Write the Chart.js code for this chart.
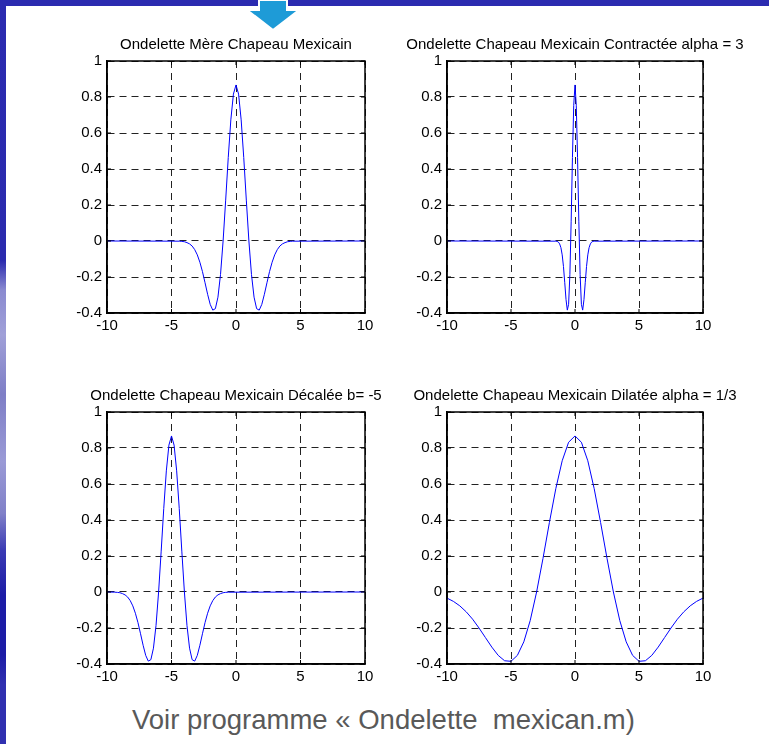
<!DOCTYPE html>
<html>
<head>
<meta charset="utf-8">
<script src="https://cdn.jsdelivr.net/npm/chart.js@4.4.1/dist/chart.umd.min.js"></script>
<style>
  body { margin: 0; background: #fff; width: 769px; height: 744px; overflow: hidden; position: relative; font-family: "Liberation Sans", Arial, sans-serif; }
  .bar-top { position: absolute; left: 0; top: 0; width: 769px; height: 6px; background: #2b2bb0; }
  .bar-left { position: absolute; left: 0; top: 0; width: 6px; height: 744px;
    background: linear-gradient(to bottom, #2b2bb0 0%, #2a2aae 35%, #8a8ad0 39%, #a0a0d8 45%, #7e7ec6 53%, #9a9ad6 62%, #8080c8 69%, #3a3ab4 74%, #1c1ca6 80%, #1c1ca6 88%, #3030b0 92%, #3030b0 100%); }
  .arrow { position: absolute; left: 244px; top: 0; }
  canvas { position: absolute; }
  #caption { position: absolute; left: 132px; top: 705px; font-size: 27.5px; line-height: 30px; color: #595959; white-space: pre; }
</style>
</head>
<body>
<div class="bar-top"></div>
<div class="bar-left"></div>
<svg class="arrow" width="58" height="32">
  <polygon points="15,0 43,0 43,10 55,10 29,30 3,10 15,10" fill="#1e9bd7" stroke="#ffffff" stroke-width="2"/>
</svg>
<canvas id="c1" width="358" height="322" style="left:57px;top:21px"></canvas>
<canvas id="c2" width="356" height="322" style="left:397px;top:21px"></canvas>
<canvas id="c3" width="358" height="322" style="left:57px;top:372px"></canvas>
<canvas id="c4" width="356" height="322" style="left:397px;top:372px"></canvas>
<div id="caption">Voir programme « Ondelette  mexican.m)</div>
<script>
// ondelette mère, chapeau mexicain
const x1 = [-10, -4.4, -4.2, -4.0, -3.8, -3.6, -3.4, -3.2, -3.0, -2.8, -2.6, -2.4, -2.2, -2.0, -1.8, -1.6, -1.4, -1.2, -1.0, -0.8, -0.6, -0.4, -0.2,
  0, 0.2, 0.4, 0.6, 0.8, 1.0, 1.2, 1.4, 1.6, 1.8, 2.0, 2.2, 2.4, 2.6, 2.8, 3.0, 3.2, 3.4, 3.6, 3.8, 4.0, 4.2, 4.4, 10];
const y1 = [0, -0.001, -0.002, -0.004, -0.009, -0.016, -0.028, -0.048, -0.077, -0.118, -0.170, -0.232, -0.296, -0.352, -0.384, -0.376, -0.312, -0.186, 0, 0.227, 0.464, 0.673, 0.816,
  0.867, 0.816, 0.673, 0.464, 0.227, 0, -0.186, -0.312, -0.376, -0.384, -0.352, -0.296, -0.232, -0.170, -0.118, -0.077, -0.048, -0.028, -0.016, -0.009, -0.004, -0.002, -0.001, 0];

// contractée alpha = 3
const x2 = [-10, -1.5, -1.4, -1.3, -1.2, -1.1, -1.0, -0.9, -0.8, -0.7, -0.6, -0.5, -0.4, -0.3, -0.2, -0.1,
  0, 0.1, 0.2, 0.3, 0.4, 0.5, 0.6, 0.7, 0.8, 0.9, 1.0, 1.1, 1.2, 1.3, 1.4, 1.5, 10];
const y2 = [0, -0.001, -0.002, -0.006, -0.016, -0.037, -0.077, -0.142, -0.232, -0.326, -0.384, -0.352, -0.186, 0.110, 0.464, 0.754,
  0.867, 0.754, 0.464, 0.110, -0.186, -0.352, -0.384, -0.326, -0.232, -0.142, -0.077, -0.037, -0.016, -0.006, -0.002, -0.001, 0];

// décalée b = -5
const x3 = [-10, -9.4, -9.2, -9.0, -8.8, -8.6, -8.4, -8.2, -8.0, -7.8, -7.6, -7.4, -7.2, -7.0, -6.8, -6.6, -6.4, -6.2, -6.0, -5.8, -5.6, -5.4, -5.2,
  -5.0, -4.8, -4.6, -4.4, -4.2, -4.0, -3.8, -3.6, -3.4, -3.2, -3.0, -2.8, -2.6, -2.4, -2.2, -2.0, -1.8, -1.6, -1.4, -1.2, -1.0, -0.8, -0.6, 10];
const y3 = [0, -0.001, -0.002, -0.004, -0.009, -0.016, -0.028, -0.048, -0.077, -0.118, -0.170, -0.232, -0.296, -0.352, -0.384, -0.376, -0.312, -0.186, 0, 0.227, 0.464, 0.673, 0.816,
  0.867, 0.816, 0.673, 0.464, 0.227, 0, -0.186, -0.312, -0.376, -0.384, -0.352, -0.296, -0.232, -0.170, -0.118, -0.077, -0.048, -0.028, -0.016, -0.009, -0.004, -0.002, -0.001, 0];

// dilatée alpha = 1/3
const x4 = [-10, -9.5, -9, -8.5, -8, -7.5, -7, -6.5, -6, -5.5, -5, -4.5, -4, -3.5, -3, -2.5, -2, -1.5, -1, -0.5,
  0, 0.5, 1, 1.5, 2, 2.5, 3, 3.5, 4, 4.5, 5, 5.5, 6, 6.5, 7, 7.5, 8, 8.5, 9, 9.5, 10];
const y4 = [-0.034, -0.052, -0.077, -0.110, -0.151, -0.200, -0.253, -0.306, -0.352, -0.382, -0.385, -0.352, -0.277, -0.159, 0, 0.187, 0.386, 0.574, 0.729, 0.832,
  0.867, 0.832, 0.729, 0.574, 0.386, 0.187, 0, -0.159, -0.277, -0.352, -0.385, -0.382, -0.352, -0.306, -0.253, -0.200, -0.151, -0.110, -0.077, -0.052, -0.034];

const titles = [
  'Ondelette Mère Chapeau Mexicain',
  'Ondelette Chapeau Mexicain Contractée alpha = 3',
  'Ondelette Chapeau Mexicain Décalée b= -5',
  'Ondelette Chapeau Mexicain Dilatée alpha = 1/3',
];

const xTicks = [-10, -5, 0, 5, 10];
const xTickLabels = ['-10', '-5', '0', '5', '10'];
const yTicks = [-0.4, -0.2, 0, 0.2, 0.4, 0.6, 0.8, 1];
const yTickLabels = ['-0.4', '-0.2', '0', '0.2', '0.4', '0.6', '0.8', '1'];

const FONT = '"Liberation Sans", Arial, sans-serif';

// matlab style box with little inner ticks
const boxPlugin = {
  id: 'box',
  afterDatasetsDraw(chart) {
    const { ctx, chartArea: a, scales } = chart;
    ctx.save();
    ctx.strokeStyle = '#000';
    ctx.lineWidth = 1;
    ctx.beginPath();
    scales.x.ticks.forEach((t) => {
      const px = scales.x.getPixelForValue(t.value);
      ctx.moveTo(px, a.bottom); ctx.lineTo(px, a.bottom - 4);
      ctx.moveTo(px, a.top); ctx.lineTo(px, a.top + 4);
    });
    scales.y.ticks.forEach((t) => {
      const py = scales.y.getPixelForValue(t.value);
      ctx.moveTo(a.left, py); ctx.lineTo(a.left + 4, py);
      ctx.moveTo(a.right, py); ctx.lineTo(a.right - 4, py);
    });
    ctx.stroke();
    ctx.lineWidth = 1.5;
    ctx.strokeRect(a.left, a.top, a.width, a.height);
    ctx.restore();
  },
};

const makePlot = (id, title, xs, ys) => {
  const ctx = document.getElementById(id).getContext('2d');
  return new Chart(ctx, {
    type: 'line',
    data: {
      datasets: [{
        data: xs.map((x, i) => ({ x, y: ys[i] })),
        borderColor: '#0000ff',
        borderWidth: 1,
        pointRadius: 0,
        tension: 0,
        fill: false,
      }],
    },
    options: {
      responsive: false,
      animation: false,
      devicePixelRatio: 1,
      layout: { padding: { top: 15, right: 0, bottom: 0, left: 0 } },
      plugins: {
        legend: { display: false },
        tooltip: { enabled: false },
        title: {
          display: true,
          text: title,
          color: '#000',
          font: { family: FONT, size: 15, weight: 'normal', lineHeight: 1.2 },
          padding: { top: 0, bottom: 7 },
        },
      },
      scales: {
        x: {
          type: 'linear',
          min: -10,
          max: 10,
          afterBuildTicks: (scale) => { scale.ticks = xTicks.map((v) => ({ value: v })); },
          afterFit: (scale) => { scale.height = 30; },
          ticks: {
            color: '#000',
            padding: 4,
            maxRotation: 0,
            font: { family: FONT, size: 15 },
            callback: (v, i) => xTickLabels[i],
          },
          grid: { color: '#222', lineWidth: 1, drawTicks: false },
          border: { display: true, color: '#000', width: 1.5, dash: [7, 5] },
        },
        y: {
          type: 'linear',
          min: -0.4,
          max: 1,
          afterBuildTicks: (scale) => { scale.ticks = yTicks.map((v) => ({ value: v })); },
          afterFit: (scale) => { scale.width = 50; },
          ticks: {
            color: '#000',
            padding: 5,
            font: { family: FONT, size: 15 },
            callback: (v, i) => yTickLabels[i],
          },
          grid: { color: '#222', lineWidth: 1, drawTicks: false },
          border: { display: true, color: '#000', width: 1.5, dash: [7, 5] },
        },
        // empty right axis, keeps the plot centred under its title
        yRight: {
          type: 'linear',
          position: 'right',
          min: -0.4,
          max: 1,
          afterFit: (scale) => { scale.width = 50; },
          ticks: { display: false },
          grid: { display: false },
          border: { display: false },
        },
      },
    },
    plugins: [boxPlugin],
  });
};

makePlot('c1', titles[0], x1, y1);
makePlot('c2', titles[1], x2, y2);
makePlot('c3', titles[2], x3, y3);
makePlot('c4', titles[3], x4, y4);
</script>
</body>
</html>
